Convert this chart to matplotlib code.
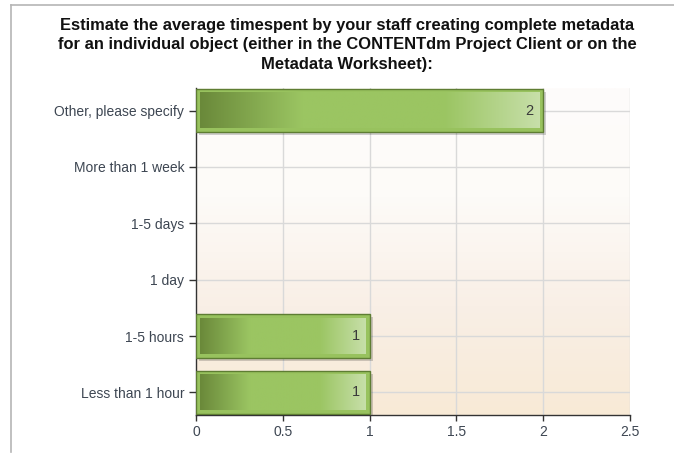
import numpy as np
import matplotlib.pyplot as plt
from matplotlib.patches import Rectangle
from matplotlib.colors import LinearSegmentedColormap
from matplotlib.lines import Line2D

plt.rcParams['font.family'] = ['Liberation Sans', 'DejaVu Sans']

# ---------------- data ----------------
categories = ["Less than 1 hour", "1-5 hours", "1 day", "1-5 days",
              "More than 1 week", "Other, please specify"]
counts = [1, 1, 0, 0, 0, 2]
xticks = [0, 0.5, 1, 1.5, 2, 2.5]
xticklabels = ["0", "0.5", "1", "1.5", "2", "2.5"]
title = ("Estimate the average timespent by your staff creating complete metadata\n"
         "for an individual object (either in the CONTENTdm Project Client or on the\n"
         "Metadata Worksheet):")

fig = plt.figure(figsize=(6.74, 4.55), dpi=100)
ax = fig.add_axes([196/674, 40/455, 434/674, 327/455])

# figure frame lines (top and left)
fig.add_artist(Line2D([11/674, 1], [1 - 5/455, 1 - 5/455], color="#b5b5b5", lw=1.2,
                      transform=fig.transFigure))
fig.add_artist(Line2D([11/674, 11/674], [1 - 5/455, 3/455], color="#b5b5b5", lw=1.2,
                      transform=fig.transFigure))

xmin, xmax = 0, 2.5
ymin, ymax = -0.4, 5.4

# background gradient
bg = LinearSegmentedColormap.from_list("bg", ["#f8ead6", "#f9efe6", "#fdfbf8", "#fefcfb"])
grad = np.linspace(0, 1, 256).reshape(-1, 1)
ax.imshow(grad, cmap=bg, aspect="auto", extent=[xmin, xmax, ymin, ymax],
          origin="lower", zorder=0)

# grid
for x in xticks[1:]:
    ax.axvline(x, color="#d9d9d9", lw=1, zorder=1)
for i in range(len(categories)):
    ax.axhline(i, color="#d9d9d9", lw=1, zorder=1)

# bars
bar_cmap = LinearSegmentedColormap.from_list(
    "bar", [(0, "#6a893a"), (0.3, "#9bc562"), (0.72, "#9bc562"), (1, "#c7dfa9")])
hgrad = np.linspace(0, 1, 256).reshape(1, -1)
h = 0.77
px_x = (xmax - xmin) / 434
px_y = (ymax - ymin) / 327
for i, v in enumerate(counts):
    if v <= 0:
        continue
    y0 = i - h / 2
    # shadow
    ax.add_patch(Rectangle((3 * px_x, y0 - 3 * px_y), v, h, facecolor="#000000",
                           alpha=0.18, lw=0, zorder=2))
    # outer rim
    ax.add_patch(Rectangle((0, y0), v, h, facecolor="#98c25e", edgecolor="#5e7d33",
                           lw=1, zorder=3))
    # inner gradient
    ax.imshow(hgrad, cmap=bar_cmap, aspect="auto", zorder=4,
              extent=[4 * px_x, v - 4 * px_x, y0 + 4 * px_y, y0 + h - 4 * px_y])
    ax.text(v - 10 * px_x, i, str(v), ha="right", va="center", fontsize=10.5,
            color="#3a3a3a", zorder=5)

ax.set_xlim(xmin, xmax)
ax.set_ylim(ymin, ymax)
ax.set_xticks(xticks)
ax.set_xticklabels(xticklabels)
ax.set_yticks(range(len(categories)))
ax.set_yticklabels(categories)
ax.tick_params(axis="both", labelsize=10, labelcolor="#3d4652", color="#333333",
               length=5, width=1)
ax.tick_params(axis="x", length=4, pad=3)
for s in ["top", "right"]:
    ax.spines[s].set_visible(False)
for s in ["left", "bottom"]:
    ax.spines[s].set_color("#333333")
    ax.spines[s].set_linewidth(1)

fig.text(347/674, 1 - 18/455, title, ha="center", va="top", fontsize=11.9,
         fontweight="bold", color="#111111", linespacing=1.36)

fig.savefig("out.png", dpi=100)
